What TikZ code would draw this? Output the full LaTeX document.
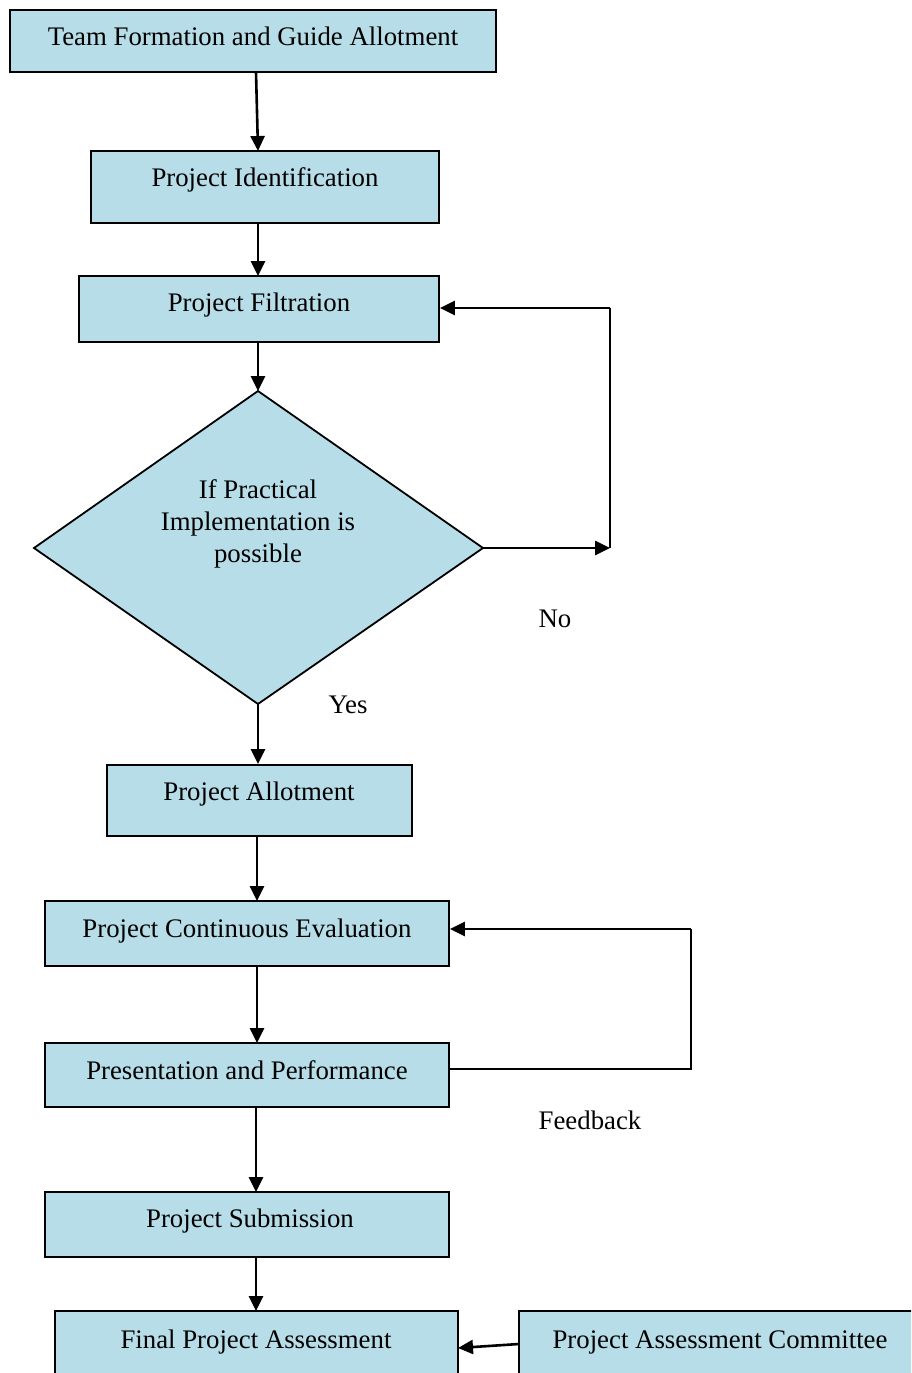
\documentclass[tikz,border=0pt]{standalone}
\usepackage{fontspec}
\setmainfont{Liberation Serif}
\usetikzlibrary{arrows.meta}
\definecolor{boxblue}{HTML}{B7DDE8}
\tikzset{
  box/.style={draw=black, line width=1.8pt, fill=boxblue, rectangle, inner sep=0pt},
  dia/.style={draw=black, line width=1.8pt, fill=boxblue},
  txt/.style={anchor=base, inner sep=0pt, font=\fontsize{26.8pt}{32pt}\selectfont},
  arr/.style={line width=2.6pt, -{Triangle[length=15pt,width=14pt]}},
  ln/.style={line width=2.6pt}
}
\begin{document}
\begin{tikzpicture}[x=1pt,y=-1pt]
\useasboundingbox (0,0) rectangle (911,1373);
\clip (0,0) rectangle (911,1373);
% boxes
\node[box, minimum width=486pt, minimum height=62pt] (b1) at (253,41) {};
\node[box, minimum width=348pt, minimum height=72pt] (b2) at (265,187) {};
\node[box, minimum width=360pt, minimum height=66pt] (b3) at (259,309) {};
\filldraw[dia] (34,548) -- (258,391) -- (483,548) -- (258,704) -- cycle;
\coordinate (dT) at (258,391);
\coordinate (dR) at (483,548);
\coordinate (dB) at (258,704);
\node[box, minimum width=305pt, minimum height=71pt] (b5) at (259.5,800.5) {};
\node[box, minimum width=404pt, minimum height=65pt] (b6) at (247,933.5) {};
\node[box, minimum width=404pt, minimum height=64pt] (b7) at (247,1075) {};
\node[box, minimum width=404pt, minimum height=65pt] (b8) at (247,1224.5) {};
\node[box, minimum width=403pt, minimum height=100pt] (b9) at (256.5,1361) {};
\node[box, minimum width=420pt, minimum height=100pt] (b10) at (729,1361) {};
% texts
\node[txt] (t1) at (253,45) {Team Formation and Guide Allotment};
\node[txt] (t2) at (265,186) {Project Identification};
\node[txt] (t3) at (259,311) {Project Filtration};
\node[txt] (t4a) at (258,498) {If Practical};
\node[txt] (t4b) at (258,530) {Implementation is};
\node[txt] (t4c) at (258,562) {possible};
\node[txt] (t5) at (259,800) {Project Allotment};
\node[txt] (t6) at (247,937) {Project Continuous Evaluation};
\node[txt] (t7) at (247,1079) {Presentation and Performance};
\node[txt] (t8) at (250,1227) {Project Submission};
\node[txt] (t9) at (256,1348) {Final Project Assessment};
\node[txt] (t10) at (720,1348) {Project Assessment Committee};
\node[txt] (no) at (555,627) {No};
\node[txt] (yes) at (348,713) {Yes};
\node[txt] (fb) at (590,1129) {Feedback};
% connectors
\coordinate (c1) at (610,548);
\coordinate (c2) at (610,308);
\coordinate (c3) at (691,1069);
\coordinate (c4) at (691,929);
\draw[arr] (256,72) -- (258,151);
\draw[arr] (258,223) -- (258,276);
\draw[arr] (258,342) -- (dT);
\draw[arr] (dR) -- (c1);
\draw[ln] (c1) -- (c2);
\draw[arr] (c2) -- (b3.east |- c2);
\draw[arr] (dB) -- (b5.north -| dB);
\draw[arr] (257,836) -- (257,901);
\draw[arr] (257,966) -- (257,1043);
\draw[ln] (b7.east |- c3) -- (c3) -- (c4);
\draw[arr] (c4) -- (b6.east |- c4);
\draw[arr] (256,1107) -- (256,1192);
\draw[arr] (256,1257) -- (256,1311);
\draw[arr] (519,1344) -- (458,1348);
\end{tikzpicture}
\end{document}
